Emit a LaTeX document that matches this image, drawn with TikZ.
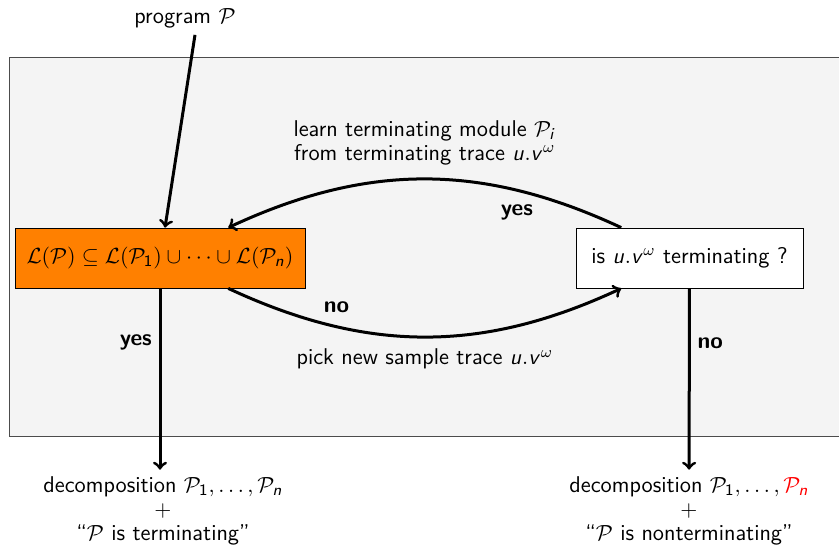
\documentclass[tikz,border=0pt]{standalone}
\usepackage{amsmath,amssymb}
\usepackage{xcolor}
\usepackage{tikz}
\usetikzlibrary{arrows, positioning, calc}
\renewcommand{\familydefault}{\sfdefault}
% sans letters in math, as on a slide
\DeclareSymbolFont{sfslanted}{OT1}{cmss}{m}{sl}
\DeclareSymbolFont{sfupright}{OT1}{cmss}{m}{n}
\DeclareMathSymbol{u}{\mathalpha}{sfslanted}{`u}
\DeclareMathSymbol{v}{\mathalpha}{sfslanted}{`v}
\DeclareMathSymbol{n}{\mathalpha}{sfslanted}{`n}
\DeclareMathSymbol{i}{\mathalpha}{sfslanted}{`i}
\DeclareMathSymbol{1}{\mathalpha}{sfupright}{`1}
\definecolor{loopgray}{HTML}{F4F4F4}
\definecolor{checkorange}{HTML}{FF8000}
\newcommand{\Lang}{\mathcal{L}}
\newcommand{\Prog}{\mathcal{P}}
\newcommand{\trace}{u.v^{\omega}}

\begin{document}
\begin{tikzpicture}[x=0.5pt, y=0.5pt, font=\sffamily\fontsize{11.4}{12}\selectfont,
    box/.style={draw, minimum height=30pt, inner xsep=5pt},
    flow/.style={line width=1.5pt, ->},
    answer/.style={font=\sffamily\bfseries\fontsize{11.4}{12}\selectfont}]
    \useasboundingbox (0,0) rectangle (839,-545);

    % Background panel
    \fill[loopgray, draw=black!70] (9,-57) rectangle (845,-436);

    % Boxes
    \node[box, fill=checkorange, minimum width=145pt] (check) at (160,-258)
        {$\Lang(\Prog) \subseteq \Lang(\Prog_1) \cup \cdots \cup \Lang(\Prog_n)$};
    \node[box, fill=white, minimum width=113.5pt] (test) at (689.5,-258)
        {is $\trace$\ terminating ?};

    % Input and results
    \node (prog) at (185,-18) {program $\Prog$};
    \node[align=center] (done) at (163,-511)
        {decomposition $\Prog_1,\dots,\Prog_n$\\ $+$\\ ``$\Prog$ is terminating''};
    \node[align=center] (fail) at (689,-511)
        {decomposition $\Prog_1,\dots,\textcolor{red}{\Prog_n}$\\ $+$\\ ``$\Prog$ is nonterminating''};

    % Connectors
    \draw[flow] ([xshift=5pt]prog.south) -- ([xshift=2.5pt]check.north);
    \draw[flow] (check) -- node[answer, pos=0.3, left] {yes} (check |- done.north);
    \draw[flow] (test) -- node[answer, pos=0.3, right] {no} (fail);
    \draw[flow] (test.156) to[bend right=25]
        node[midway, above=3pt, align=center]
            {learn terminating module $\Prog_i$\\ from terminating trace $\trace$}
        node[answer, pos=0.26, below=3pt] {yes} (check.24);
    \draw[flow] (check.-24) to[bend right=25]
        node[answer, pos=0.27, above=3pt] {no}
        node[midway, below=2pt] {pick new sample trace $\trace$} (test.204);
\end{tikzpicture}
\end{document}
